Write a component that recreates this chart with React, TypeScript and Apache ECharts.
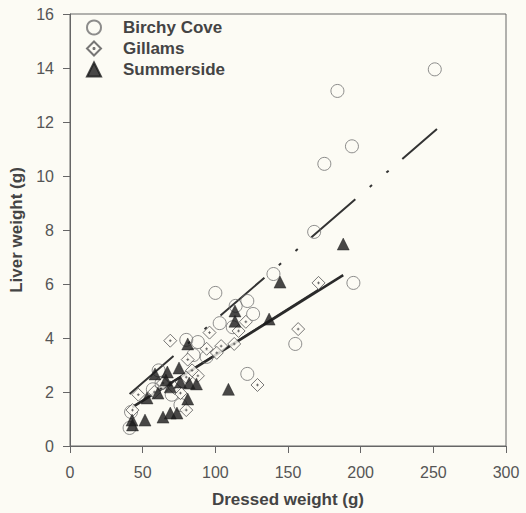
import React, { useEffect, useRef } from "react";
import * as echarts from "echarts";

// Birchy Cove (open circles)
const birchyX = [251, 184, 194, 175, 168, 195, 140, 100, 114, 122, 126, 103, 88, 80, 85, 122, 155, 61, 76, 42, 41, 63, 70, 94, 57, 112];
const birchyY = [13.95, 13.15, 11.1, 10.45, 7.93, 6.04, 6.37, 5.67, 5.19, 5.37, 4.89, 4.55, 3.85, 3.93, 3.37, 2.67, 3.78, 2.8, 1.52, 1.26, 0.67, 2.33, 1.9, 3.3, 2.1, 4.4];

// Gillams (diamonds)
const gillamsX = [171, 157, 129, 121, 116, 113, 104, 96, 94, 101, 81, 88, 80, 69, 64, 47, 43, 80, 76, 72, 84, 58];
const gillamsY = [6.04, 4.33, 2.26, 4.6, 4.26, 3.78, 3.7, 4.2, 3.6, 3.45, 3.2, 2.6, 2.55, 3.9, 2.33, 1.9, 1.33, 1.33, 1.96, 2.15, 2.8, 2.0];

// Summerside (filled triangles)
const summerX = [188, 144.5, 137, 113.5, 113.5, 109, 81, 58.5, 67, 75, 66, 76, 82, 87, 81, 60.5, 53, 73.6, 69, 64, 51.6, 42.7, 43, 69];
const summerY = [7.48, 6.07, 4.7, 5.0, 4.62, 2.1, 3.78, 2.67, 2.74, 2.89, 2.44, 2.37, 2.33, 2.3, 1.74, 1.96, 1.78, 1.22, 1.22, 1.07, 0.96, 0.96, 0.78, 2.19];

// Regression line endpoints
const birchyLineX = [41, 252.5];
const birchyLineY = [1.93, 11.74];
const gillamsLineX = [43, 171];
const gillamsLineY = [1.45, 5.8];
const summerLineX = [43, 188];
const summerLineY = [1.44, 6.33];

const xTicks = [0, 50, 100, 150, 200, 250, 300];
const yTicks = [0, 2, 4, 6, 8, 10, 12, 14, 16];

const zip = (xs: number[], ys: number[]) => xs.map((x, i) => [x, ys[i]]);

const BG = "#fcfbf4";
const INK = "#555555";
const FONT = "Liberation Sans, Arial, sans-serif";

const diamondPath =
  "path://M12,0 L24,12 L12,24 L0,12 Z M12,9.5 L12,14.5 M9.5,12 L14.5,12";

export default function App() {
  const ref = useRef<HTMLDivElement>(null);
  useEffect(() => {
    if (!ref.current) return;
    const chart = echarts.init(ref.current, undefined, { renderer: "svg" });
    chart.setOption({
      animation: false,
      backgroundColor: BG,
      grid: {
        left: 70,
        top: 14,
        right: 20,
        bottom: 67,
        containLabel: false,
        outerBoundsMode: "none",
        show: true,
        borderColor: "#666",
        borderWidth: 1,
        backgroundColor: "transparent",
      },
      legend: {
        left: 81,
        top: 14,
        orient: "vertical",
        itemWidth: 14,
        itemHeight: 14,
        itemGap: 4,
        data: ["Birchy Cove", "Gillams", "Summerside"],
        textStyle: {
          fontFamily: FONT,
          fontWeight: "bold",
          fontSize: 17,
          lineHeight: 16,
          color: "#444",
          padding: [0, 0, 0, 17],
        },
      },
      xAxis: {
        type: "value",
        min: 0,
        max: 300,
        interval: 50,
        name: "Dressed weight (g)",
        nameLocation: "middle",
        nameGap: 45,
        nameTextStyle: { fontFamily: FONT, fontWeight: "bold", fontSize: 17, color: "#444" },
        axisLine: { show: true, lineStyle: { color: "#666" } },
        axisTick: { show: true, length: 7, lineStyle: { color: "#666" } },
        axisLabel: { fontFamily: FONT, fontSize: 16, color: INK, margin: 18,
          formatter: (v: number) => (xTicks.includes(v) ? String(v) : "") },
        splitLine: { show: false },
      },
      yAxis: {
        type: "value",
        min: 0,
        max: 16,
        interval: 2,
        name: "Liver weight (g)",
        nameLocation: "middle",
        nameGap: 44,
        nameRotate: 90,
        nameTextStyle: { fontFamily: FONT, fontWeight: "bold", fontSize: 17, color: "#444" },
        axisLine: { show: true, lineStyle: { color: "#666" } },
        axisTick: { show: true, length: 7, lineStyle: { color: "#666" } },
        axisLabel: { fontFamily: FONT, fontSize: 16, color: INK, margin: 16,
          formatter: (v: number) => (yTicks.includes(v) ? String(v) : "") },
        splitLine: { show: false },
      },
      series: [
        {
          name: "Birchy Cove line",
          type: "line",
          data: zip(birchyLineX, birchyLineY),
          showSymbol: false,
          symbol: "none",
          lineStyle: { color: "#333", width: 2, type: [58, 19, 3, 19, 3, 18] },
          z: 3,
        },
        {
          name: "Gillams line",
          type: "line",
          data: zip(gillamsLineX, gillamsLineY),
          showSymbol: false,
          symbol: "none",
          lineStyle: { color: "#333", width: 1.5 },
          z: 3,
        },
        {
          name: "Summerside line",
          type: "line",
          data: zip(summerLineX, summerLineY),
          showSymbol: false,
          symbol: "none",
          lineStyle: { color: "#2a2a2a", width: 2.5 },
          z: 3,
        },
        {
          name: "Birchy Cove",
          type: "scatter",
          data: zip(birchyX, birchyY),
          symbol: "circle",
          symbolSize: 13,
          itemStyle: { color: "rgba(0,0,0,0)", borderColor: "#707070", borderWidth: 1 },
          z: 4,
        },
        {
          name: "Gillams",
          type: "scatter",
          data: zip(gillamsX, gillamsY),
          symbol: diamondPath,
          symbolSize: 13,
          itemStyle: { color: BG, borderColor: "#555", borderWidth: 1 },
          z: 5,
        },
        {
          name: "Summerside",
          type: "scatter",
          data: zip(summerX, summerY),
          symbol: "triangle",
          symbolSize: 12,
          itemStyle: { color: "#1a1a1a", borderColor: "#1a1a1a", borderWidth: 0.5 },
          z: 6,
        },
      ],
    });
    return () => chart.dispose();
  }, []);
  return (
    <div
      ref={ref}
      style={{ position: "fixed", left: 0, top: 0, width: 526, height: 513, background: BG }}
    />
  );
}
